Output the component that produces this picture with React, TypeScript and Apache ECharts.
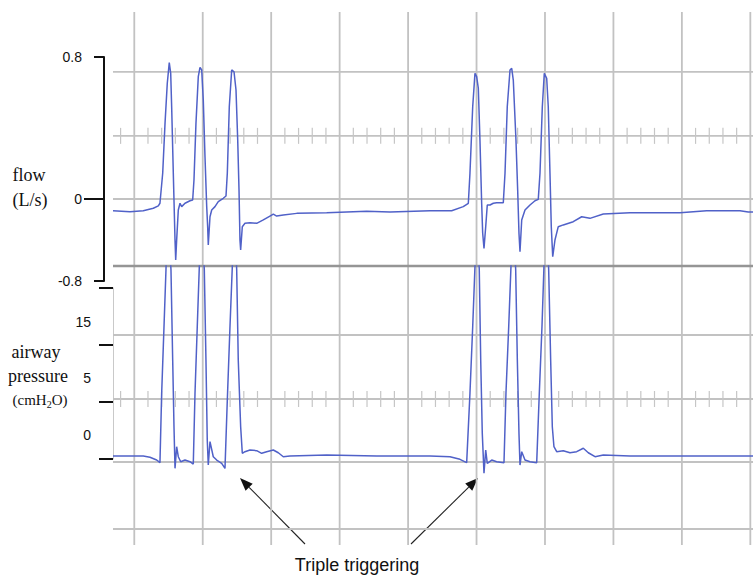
import React, { useEffect, useRef } from 'react';
import * as echarts from 'echarts';

// time in screen divisions (one major grid division = 1)
const X_MIN = -0.311;
const X_MAX = 9.039;

// flow trace [time, L/s]
const flowSamples = [
  [-0.311, -0.066], [-0.063, -0.072], [0.131, -0.066], [0.278, -0.052], [0.351, -0.039], [0.375, -0.024],
  [0.415, 0.145], [0.449, 0.426], [0.482, 0.652], [0.511, 0.768], [0.532, 0.708], [0.546, 0.52],
  [0.57, 0.145], [0.595, -0.231], [0.605, -0.344], [0.619, -0.231], [0.643, -0.062], [0.668, -0.024],
  [0.692, -0.043], [0.741, -0.024], [0.814, -0.01], [0.853, -0.006], [0.872, 0.107], [0.901, 0.426],
  [0.935, 0.689], [0.96, 0.742], [0.985, 0.727], [1.008, 0.558], [1.033, 0.238], [1.058, -0.043],
  [1.072, -0.156], [1.081, -0.259], [1.106, -0.1], [1.131, -0.062], [1.179, -0.043], [1.227, -0.015],
  [1.3, 0.004], [1.34, 0.017], [1.359, 0.145], [1.388, 0.52], [1.423, 0.727], [1.457, 0.717],
  [1.486, 0.614], [1.511, 0.332], [1.53, 0.051], [1.544, -0.231], [1.554, -0.287], [1.578, -0.156],
  [1.617, -0.137], [1.69, -0.134], [1.788, -0.137], [1.885, -0.118], [1.982, -0.096], [2.031, -0.085],
  [2.08, -0.096], [2.177, -0.09], [2.373, -0.081], [2.811, -0.077], [3.395, -0.069], [3.736, -0.073],
  [4.32, -0.066], [4.637, -0.066], [4.806, -0.043], [4.88, -0.024], [4.904, 0.145], [4.944, 0.52],
  [4.977, 0.708], [5.002, 0.689], [5.026, 0.624], [5.05, 0.332], [5.075, -0.024], [5.09, -0.193],
  [5.109, -0.278], [5.134, -0.156], [5.157, -0.034], [5.197, -0.034], [5.245, -0.024], [5.294, -0.021],
  [5.391, -0.021], [5.416, 0.145], [5.449, 0.52], [5.489, 0.727], [5.514, 0.736], [5.537, 0.67],
  [5.576, 0.332], [5.601, 0.051], [5.62, -0.193], [5.635, -0.297], [5.66, -0.118], [5.708, -0.062],
  [5.781, -0.034], [5.854, -0.01], [5.902, -0.002], [5.927, 0.145], [5.961, 0.52], [5.99, 0.708],
  [6.025, 0.68], [6.048, 0.52], [6.073, 0.145], [6.092, -0.156], [6.113, -0.325], [6.146, -0.231],
  [6.194, -0.156], [6.267, -0.146], [6.413, -0.128], [6.536, -0.1], [6.657, -0.109], [6.852, -0.085],
  [7.242, -0.077], [7.972, -0.077], [8.362, -0.066], [8.849, -0.066], [8.97, -0.073], [9.039, -0.073],
];

// airway pressure trace [time, cmH2O]
const pressureSamples = [
  [-0.311, 0.26], [0.131, 0.26], [0.229, 0.15], [0.327, -0.09], [0.375, -0.32], [0.4, 5.76],
  [0.434, 11.6], [0.463, 16.6], [0.49, 22], [0.536, 16.6], [0.561, 8.68], [0.58, 2.83],
  [0.595, -0.82], [0.619, 1.08], [0.643, 0.2], [0.678, -0.24], [0.741, -0.09], [0.814, -0.24],
  [0.862, -0.44], [0.887, 5.76], [0.92, 11.6], [0.95, 16.87], [0.98, 22], [1.023, 16.6],
  [1.047, 8.68], [1.066, 1.67], [1.081, -0.53], [1.106, 1.52], [1.154, 0.2], [1.204, -0.09],
  [1.277, -0.38], [1.325, -0.82], [1.359, 5.18], [1.398, 11.6], [1.432, 16.87], [1.46, 22],
  [1.496, 16.6], [1.519, 8.68], [1.554, 2.83], [1.578, 0.5], [1.617, 0.64], [1.69, 0.79],
  [1.788, 0.73], [1.861, 0.5], [1.934, 0.64], [2.031, 0.79], [2.104, 0.55], [2.177, 0.2],
  [2.275, 0.26], [2.811, 0.35], [3.541, 0.26], [4.32, 0.26], [4.612, 0.2], [4.758, -0.03],
  [4.856, -0.32], [4.904, 5.76], [4.944, 11.6], [4.977, 16.87], [5.0, 22], [5.04, 16.6],
  [5.061, 8.68], [5.084, 2.25], [5.109, -1.25], [5.134, 0.79], [5.157, -0.38], [5.222, -0.09],
  [5.294, -0.24], [5.401, -0.32], [5.43, 5.76], [5.47, 11.6], [5.503, 16.87], [5.53, 22],
  [5.572, 16.6], [5.596, 8.68], [5.62, 2.25], [5.635, -0.53], [5.66, 0.64], [5.708, -0.09],
  [5.781, -0.24], [5.879, -0.32], [5.917, 5.76], [5.956, 11.6], [5.985, 16.87], [6.02, 22],
  [6.054, 16.6], [6.083, 8.68], [6.107, 2.83], [6.131, 1.08], [6.171, 0.64], [6.267, 0.73],
  [6.365, 0.55], [6.463, 0.64], [6.56, 0.94], [6.633, 0.55], [6.731, 0.2], [6.852, 0.35],
  [7.242, 0.26], [8.216, 0.26], [8.97, 0.26], [9.039, 0.26],
];

// flow axis (bracket)
const FLOW_MIN = -0.462;
const FLOW_MAX = 0.8;
const flowTickValues = [FLOW_MIN, FLOW_MAX];
const flowZeroTick = [0];
const flowLabelValues = [FLOW_MIN, 0, FLOW_MAX];
const flowLabelTexts = ['-0.8', '0', '0.8'];

// pressure axis
const P_MIN = -1.4;
const P_MAX = 16.93;
const pressureTickValues = [0, 5, 10, 15];
const pressureLabelValues = [2.1, 7.1, 12.0];
const pressureLabelTexts = ['0', '5', '15'];

// background monitor grid (rows in screen divisions from the bottom line)
const BG_MIN = -0.245;
const BG_MAX = 7.918;
const majorTimes = [0, 1, 2, 3, 4, 5, 6, 7, 8, 9];
const gridRows = [0, 1.026, 1.991, 2.971, 4.028, 5.054, 6.021, 7.0];
const separatorRow = 4.028;
const tickedRows = [1.991, 6.021];
const MINOR_PER_MAJOR = 5;

const TRACE = '#5061c8';
const GRID = '#c2c2c2';
const INK = '#111111';
const SANS = '"Liberation Sans", Arial, sans-serif';
const SERIF = '"Liberation Serif", "Times New Roman", serif';

function labelFor(values: number[], texts: string[]) {
  return (v: number) => {
    const i = values.findIndex((x) => Math.abs(x - v) < 1e-6);
    return i >= 0 ? texts[i] : '';
  };
}

function arrow(x1: number, y1: number, x2: number, y2: number) {
  const dx = x2 - x1;
  const dy = y2 - y1;
  const len = Math.hypot(dx, dy);
  const ux = dx / len;
  const uy = dy / len;
  const hl = 13;
  const hw = 5;
  const bx = x2 - ux * hl;
  const by = y2 - uy * hl;
  return [
    { type: 'line', shape: { x1, y1, x2: bx, y2: by }, style: { stroke: '#222', lineWidth: 1.1 } },
    {
      type: 'polygon',
      shape: { points: [[x2, y2], [bx - uy * hw, by + ux * hw], [bx + uy * hw, by - ux * hw]] },
      style: { fill: '#111' },
    },
  ];
}

function renderBackground(params: any, api: any) {
  const children: any[] = [];
  const top = api.coord([0, BG_MAX])[1];
  const bottom = api.coord([0, BG_MIN])[1];
  const left = api.coord([X_MIN, 0])[0];
  const right = api.coord([X_MAX, 0])[0];
  majorTimes.forEach((t) => {
    const x = api.coord([t, 0])[0];
    children.push({ type: 'line', shape: { x1: x, y1: top, x2: x, y2: bottom }, style: { stroke: GRID, lineWidth: 1.8 } });
  });
  gridRows.forEach((r) => {
    const y = api.coord([0, r])[1];
    const sep = r === separatorRow;
    children.push({
      type: 'line',
      shape: { x1: left, y1: y, x2: right, y2: y },
      style: { stroke: sep ? '#959595' : GRID, lineWidth: sep ? 2.6 : 1.8 },
    });
  });
  const step = 1 / MINOR_PER_MAJOR;
  const k0 = Math.ceil(X_MIN / step);
  const k1 = Math.floor(X_MAX / step);
  tickedRows.forEach((r) => {
    const y = api.coord([0, r])[1];
    for (let k = k0; k <= k1; k++) {
      if (k % MINOR_PER_MAJOR === 0) continue;
      const x = api.coord([k * step, 0])[0];
      children.push({ type: 'line', shape: { x1: x, y1: y - 8, x2: x, y2: y + 8 }, style: { stroke: '#c6c6c6', lineWidth: 1.2 } });
    }
  });
  return { type: 'group', children };
}

export default function App() {
  const ref = useRef<HTMLDivElement>(null);

  useEffect(() => {
    if (!ref.current) return;
    const chart = echarts.init(ref.current, null, { renderer: 'svg' });
    const hiddenX = (gridIndex: number, min: number, max: number) => ({
      type: 'value', gridIndex, min, max, show: false,
    });

    const option: any = {
      animation: false,
      backgroundColor: '#ffffff',
      grid: [
        { left: 113, width: 640, top: 12, height: 533 },
        { left: 113, width: 640, top: 57, height: 224 },
        { left: 113, width: 640, top: 266, height: (P_MAX - P_MIN) * 11.4 },
        { left: 113, width: 1, top: 288, height: 171 },
      ],
      xAxis: [
        hiddenX(0, X_MIN, X_MAX),
        hiddenX(1, X_MIN, X_MAX),
        hiddenX(2, X_MIN, X_MAX),
        hiddenX(3, 0, 1),
      ],
      yAxis: [
        { type: 'value', gridIndex: 0, min: BG_MIN, max: BG_MAX, show: false },
        {
          type: 'value', gridIndex: 1, min: FLOW_MIN, max: FLOW_MAX, position: 'left', offset: 9,
          axisLine: { show: true, onZero: false, lineStyle: { color: INK, width: 2 } },
          axisTick: { show: true, customValues: flowTickValues, length: 10, lineStyle: { color: INK, width: 2 } },
          axisLabel: {
            show: true, customValues: flowLabelValues, formatter: labelFor(flowLabelValues, flowLabelTexts),
            margin: 22, color: INK, fontSize: 14, fontFamily: SANS,
          },
          splitLine: { show: false },
        },
        {
          type: 'value', gridIndex: 1, min: FLOW_MIN, max: FLOW_MAX, position: 'left', offset: 9,
          axisLine: { show: false, onZero: false },
          axisTick: { show: true, customValues: flowZeroTick, length: 20, lineStyle: { color: INK, width: 2 } },
          axisLabel: { show: false },
          splitLine: { show: false },
        },
        { type: 'value', gridIndex: 2, min: P_MIN, max: P_MAX, show: false },
        {
          type: 'value', gridIndex: 3, min: 0, max: 15, position: 'left',
          axisLine: { show: true, onZero: false, lineStyle: { color: '#c9c9c9', width: 1 } },
          axisTick: { show: true, customValues: pressureTickValues, length: 14, lineStyle: { color: INK, width: 2 } },
          axisLabel: {
            show: true, customValues: pressureLabelValues, formatter: labelFor(pressureLabelValues, pressureLabelTexts),
            margin: 22, color: INK, fontSize: 14, fontFamily: SANS,
          },
          splitLine: { show: false },
        },
      ],
      series: [
        {
          type: 'custom', name: 'grid', xAxisIndex: 0, yAxisIndex: 0, silent: true, clip: false, z: 1,
          data: [[0, 0]], renderItem: renderBackground,
        },
        {
          type: 'line', name: 'flow', xAxisIndex: 1, yAxisIndex: 1, data: flowSamples, showSymbol: false,
          z: 3, lineStyle: { color: TRACE, width: 1.5 }, itemStyle: { color: TRACE },
        },
        {
          type: 'line', name: 'airway pressure', xAxisIndex: 2, yAxisIndex: 3, data: pressureSamples, showSymbol: false,
          clip: true, z: 3, lineStyle: { color: TRACE, width: 1.5 }, itemStyle: { color: TRACE },
        },
      ],
      graphic: [
        { type: 'text', x: 29, y: 175, style: { text: 'flow', fontFamily: SERIF, fontSize: 18, fill: INK, align: 'center', verticalAlign: 'middle' } },
        { type: 'text', x: 30, y: 200, style: { text: '(L/s)', fontFamily: SERIF, fontSize: 18, fill: INK, align: 'center', verticalAlign: 'middle' } },
        { type: 'text', x: 36, y: 352, style: { text: 'airway', fontFamily: SERIF, fontSize: 18, fill: INK, align: 'center', verticalAlign: 'middle' } },
        { type: 'text', x: 38, y: 376, style: { text: 'pressure', fontFamily: SERIF, fontSize: 18, fill: INK, align: 'center', verticalAlign: 'middle' } },
        {
          type: 'text', x: 40, y: 400,
          style: {
            text: '{a|(cmH}{s|2}{a|O)}', align: 'center', verticalAlign: 'middle',
            rich: {
              a: { fontFamily: SERIF, fontSize: 15, lineHeight: 18, fill: INK },
              s: { fontFamily: SERIF, fontSize: 10, lineHeight: 10, verticalAlign: 'bottom', fill: INK },
            },
          },
        },
        ...arrow(305, 544, 240, 478),
        ...arrow(411, 544, 478, 478),
        { type: 'text', x: 357, y: 565, style: { text: 'Triple triggering', fontFamily: SANS, fontSize: 18, fill: INK, align: 'center', verticalAlign: 'middle' } },
      ],
    };

    chart.setOption(option);
    return () => chart.dispose();
  }, []);

  return (
    <div
      ref={ref}
      style={{ position: 'fixed', left: 0, top: 0, width: 753, height: 575, background: '#fff' }}
    />
  );
}
